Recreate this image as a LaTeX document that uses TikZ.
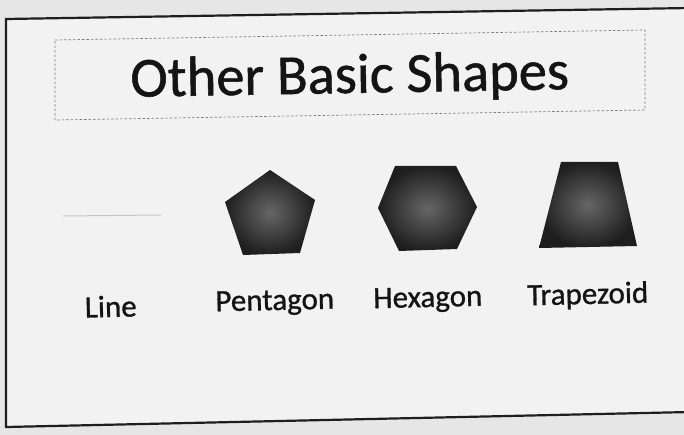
\documentclass[tikz,border=0pt]{standalone}
\usepackage{fontspec}
\setmainfont{Carlito}
\newfontfamily\heavyfont{Carlito}[FakeBold=0.9]
\definecolor{pagebg}{HTML}{E6E6E6}
\definecolor{slidebg}{HTML}{F2F2F2}
\definecolor{frame}{HTML}{1E1E1E}
\definecolor{shapein}{HTML}{666666}
\definecolor{shapeout}{HTML}{1E1E1E}
\definecolor{linegray}{HTML}{C4C4C4}
\definecolor{dashgray}{HTML}{7A7A7A}
\tikzset{
  shapefill/.style={inner color=shapein, outer color=shapeout},
  lbl/.style={font=\heavyfont\fontsize{31}{35}\selectfont, anchor=base, inner sep=0pt, text=black!92, rotate=1.3},
  titletext/.style={font=\heavyfont\fontsize{56.5}{64}\selectfont, anchor=base, inner sep=0pt, text=black!92, rotate=1},
}
\begin{document}
\begin{tikzpicture}[x=1pt,y=-1pt]
\useasboundingbox (0,0) rectangle (684,435);
\fill[pagebg] (0,0) rectangle (684,435);
% slide
\fill[slidebg] (6,19) -- (690,8) -- (690,412) -- (6,427) -- cycle;
\draw[frame, line width=2.2pt] (6,19) -- (690,8) -- (690,412) -- (6,427) -- cycle;
% title placeholder
\draw[dashgray, line width=0.7pt, dash pattern=on 2.5pt off 2pt] (55,40) -- (645,30) -- (645,110) -- (55,120) -- cycle;
\node[titletext] (title) at (350,93) {Other Basic Shapes};
% line
\coordinate (la) at (63,216);
\coordinate (lb) at (161,215);
\draw[linegray, line width=1pt] (la) -- (lb);
% pentagon
\shade[shapefill] (270,170) -- (315,200) -- (300,253) -- (243,255) -- (225,202) -- cycle;
% hexagon
\shade[shapefill] (395,166) -- (456,166) -- (477,207) -- (457,249) -- (399,251) -- (378,208) -- cycle;
% trapezoid
\shade[shapefill] (561,162) -- (618,162) -- (637,246) -- (539,248) -- cycle;
% labels
\node[lbl] (lline) at (111,317) {Line};
\node[lbl] (lpent) at (275,310) {Pentagon};
\node[lbl] (lhex) at (428,307) {Hexagon};
\node[lbl] (ltrap) at (588,304) {Trapezoid};
\end{tikzpicture}
\end{document}
